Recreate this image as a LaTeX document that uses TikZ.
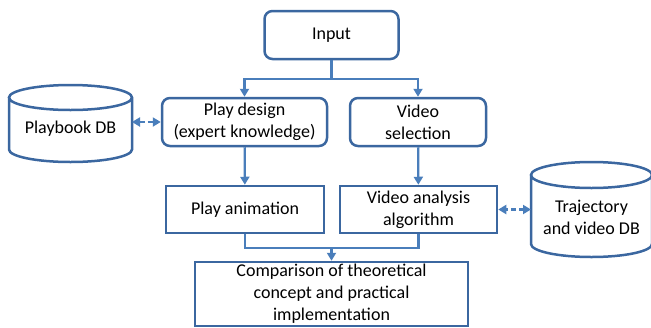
\documentclass[tikz,border=0pt]{standalone}
\usepackage{fontspec}
\setmainfont{Carlito}
\usetikzlibrary{shapes,arrows,arrows.meta,positioning,shapes.geometric}

\definecolor{boxline}{HTML}{3B67A0}
\definecolor{linkline}{HTML}{4A7EBB}

\tikzset{
    block/.style={draw=boxline, line width=2.5pt, fill=white, align=center, inner sep=0pt},
    rblock/.style={block, rounded corners=8pt},
    db/.style={align=center, inner sep=0pt, outer sep=0pt},
    dbline/.style={draw=boxline, line width=2.5pt},
    link/.style={draw=linkline, line width=2.3pt},
}

\begin{document}
\begin{tikzpicture}[x=1pt, y=-1pt, font=\fontsize{18}{22}\selectfont, >={Triangle[length=8pt,width=9pt]}]
    \useasboundingbox (0,0) rectangle (651,327);

    \node[rblock, minimum width=134pt, minimum height=48pt] (input) at (331.5,35) {Input};
    \node[rblock, minimum width=165pt, minimum height=48pt] (design) at (244.5,122) {Play design\\(expert knowledge)};
    \node[rblock, minimum width=136pt, minimum height=48pt] (select) at (418,122) {Video\\selection};
    \node[block, minimum width=158pt, minimum height=47pt] (anim) at (245,209.5) {Play animation};
    \node[block, minimum width=157pt, minimum height=47pt] (analysis) at (418.5,209.5) {Video analysis\\algorithm};
    \node[block, minimum width=273pt, minimum height=64pt] (compare) at (331.5,294) {Comparison of theoretical\\concept and practical\\implementation};
    \node[db, minimum width=123pt, minimum height=66pt] (playbook) at (70.5,129) {Playbook DB};
    \node[db, minimum width=121pt, minimum height=80pt] (traj) at (591.5,217) {Trajectory\\and video DB};

    % database outlines
    \draw[dbline] ([yshift=-1.5pt]playbook.north west) -- ([yshift=12.5pt]playbook.south west)
        arc[start angle=180, end angle=360, x radius=61.5pt, y radius=12.5pt]
        -- ([yshift=-1.5pt]playbook.north east)
        arc[start angle=0, end angle=360, x radius=61.5pt, y radius=12.5pt];
    \draw[dbline] ([yshift=2pt]traj.north west) -- ([yshift=13pt]traj.south west)
        arc[start angle=180, end angle=360, x radius=60.5pt, y radius=13pt]
        -- ([yshift=2pt]traj.north east)
        arc[start angle=0, end angle=360, x radius=60.5pt, y radius=13pt];

    \coordinate (split) at (331.5,79);
    \coordinate (merge) at (331.5,248);

    \draw[link] (input.south) -- (split);
    \draw[link, ->] (split) -| (design.north);
    \draw[link, ->] (split) -| (select.north);
    \draw[link, ->] (design) -- (anim);
    \draw[link, ->] (select) -- (analysis);
    \draw[link] (anim.south) |- (merge);
    \draw[link] (analysis.south) |- (merge);
    \draw[link, ->] (merge) -- (compare.north);
    \draw[link, dash pattern=on 5pt off 3pt, <->] (design.west -| playbook.east) -- (design.west);
    \draw[link, dash pattern=on 5pt off 3pt, <->] (analysis.east -| traj.west) -- (analysis.east);

\end{tikzpicture}
\end{document}
